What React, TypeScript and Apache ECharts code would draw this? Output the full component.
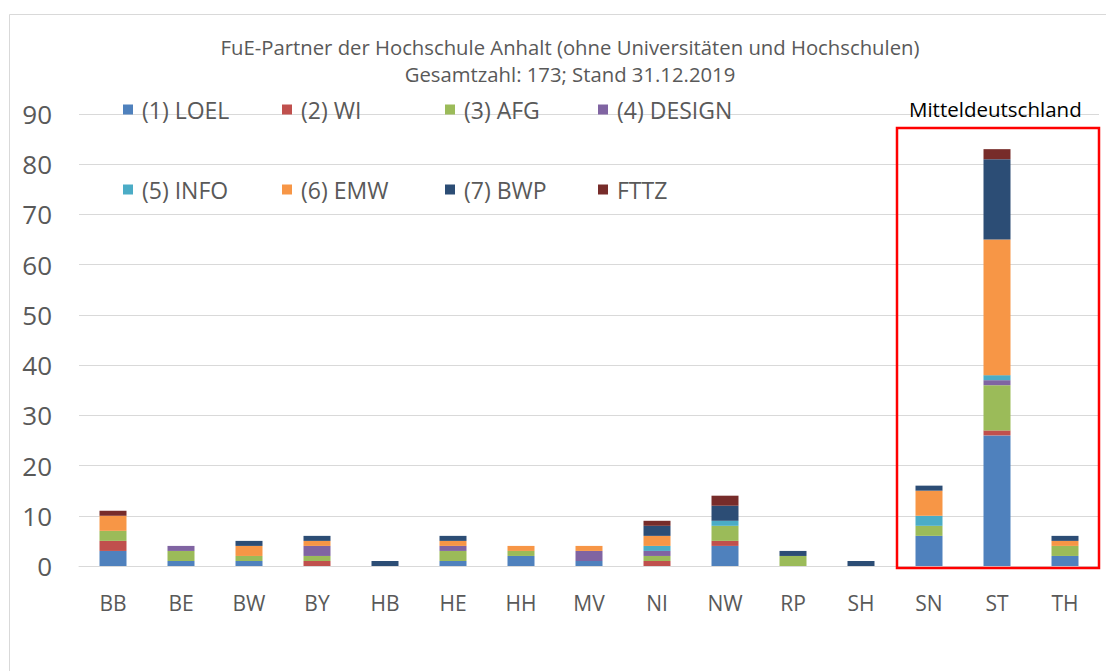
import React, { useEffect, useRef } from "react";
import * as echarts from "echarts";

const categories = ["BB", "BE", "BW", "BY", "HB", "HE", "HH", "MV", "NI", "NW", "RP", "SH", "SN", "ST", "TH"];
const seriesNames = ["(1) LOEL", "(2) WI", "(3) AFG", "(4) DESIGN", "(5) INFO", "(6) EMW", "(7) BWP", "FTTZ"];
const LOEL = [3, 1, 1, 0, 0, 1, 2, 1, 0, 4, 0, 0, 6, 26, 2];
const WI = [2, 0, 0, 1, 0, 0, 0, 0, 1, 1, 0, 0, 0, 1, 0];
const AFG = [2, 2, 1, 1, 0, 2, 1, 0, 1, 3, 2, 0, 2, 9, 2];
const DESIGN = [0, 1, 0, 2, 0, 1, 0, 2, 1, 0, 0, 0, 0, 1, 0];
const INFO = [0, 0, 0, 0, 0, 0, 0, 0, 1, 1, 0, 0, 2, 1, 0];
const EMW = [3, 0, 2, 1, 0, 1, 1, 1, 2, 0, 0, 0, 5, 27, 1];
const BWP = [0, 0, 1, 1, 1, 1, 0, 0, 2, 3, 1, 1, 1, 16, 1];
const FTTZ = [1, 0, 0, 0, 0, 0, 0, 0, 1, 2, 0, 0, 0, 2, 0];
const colors = ["#4F81BD", "#C0504D", "#9BBB59", "#8064A2", "#4BACC6", "#F79646", "#2C4D75", "#772C2A"];
const yTicks = { min: 0, max: 90, interval: 10 };

const FONT = "'Open Sans', sans-serif";
const GREY = "#595959";

export default function App() {
  const ref = useRef<HTMLDivElement>(null);
  useEffect(() => {
    if (!ref.current) return;
    const chart = echarts.init(ref.current, null, { renderer: "svg" });
    const values = [LOEL, WI, AFG, DESIGN, INFO, EMW, BWP, FTTZ];
    const legendCols = [123, 282, 445, 598];
    const legendRows = [98, 178];
    const legends = seriesNames.map((name, i) => ({
      data: [name],
      left: legendCols[i % 4],
      top: legendRows[Math.floor(i / 4)],
      itemWidth: 10,
      itemHeight: 10,
      icon: "rect",
      padding: 0,
      textStyle: { fontFamily: FONT, fontSize: 23, color: GREY, padding: [0, 0, 0, 4] },
    }));
    chart.setOption({
      animation: false,
      title: {
        text: "FuE-Partner der Hochschule Anhalt (ohne Universitäten und Hochschulen)\nGesamtzahl: 173; Stand 31.12.2019",
        left: 565,
        textAlign: "center",
        top: 28,
        textStyle: { fontFamily: FONT, fontSize: 20.3, fontWeight: "normal", color: GREY, lineHeight: 27 },
      },
      legend: legends,
      grid: { left: 79, right: 7, top: 114, bottom: 105, containLabel: false },
      xAxis: {
        type: "category",
        data: categories,
        axisLine: { lineStyle: { color: "#d9d9d9", width: 1 } },
        axisTick: { show: false },
        axisLabel: { fontFamily: FONT, fontSize: 21, color: GREY, margin: 26 },
      },
      yAxis: {
        type: "value",
        min: yTicks.min,
        max: yTicks.max,
        interval: yTicks.interval,
        axisLine: { show: false },
        axisTick: { show: false },
        splitLine: { lineStyle: { color: "#d9d9d9", width: 1 } },
        axisLabel: { fontFamily: FONT, fontSize: 26, color: GREY, margin: 27 },
      },
      series: seriesNames.map((name, i) => ({
        name,
        type: "bar",
        stack: "total",
        data: values[i],
        barWidth: 27,
        itemStyle: { color: colors[i] },
      })),
      graphic: [
        {
          type: "rect",
          shape: { x: 9.5, y: 14.5, width: 1200, height: 800 },
          style: { fill: "none", stroke: "#d9d9d9", lineWidth: 1 },
          silent: true,
          z: -10,
        },
        {
          type: "rect",
          shape: { x: 897, y: 128, width: 202, height: 440 },
          style: { fill: "none", stroke: "#FF0000", lineWidth: 2.5 },
          silent: true,
          z: 10,
        },
        {
          type: "text",
          x: 909,
          y: 109,
          style: {
            text: "Mitteldeutschland",
            fontFamily: FONT,
            fontSize: 20.5,
            fill: "#000000",
            verticalAlign: "middle",
          },
          z: 10,
        },
      ],
    });
    return () => chart.dispose();
  }, []);
  return <div ref={ref} style={{ position: "fixed", left: 0, top: 0, width: 1106, height: 671, background: "#fff" }} />;
}
